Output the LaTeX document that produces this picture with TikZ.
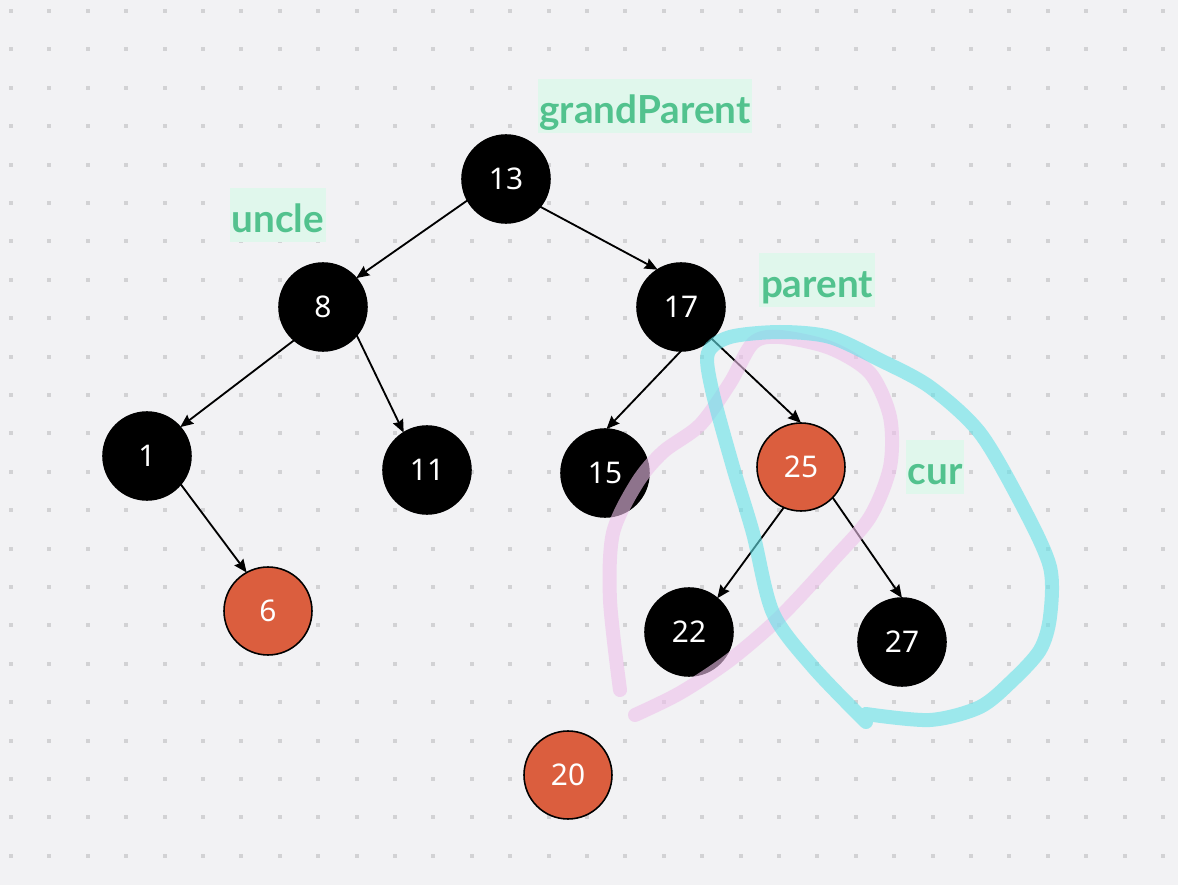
\documentclass[tikz,border=0pt]{standalone}
\usepackage{fontspec}
\setmainfont{Noto Sans}
\newfontfamily\tagfont{Lato}
\usetikzlibrary{arrows.meta}
\definecolor{bgcol}{RGB}{242,242,244}
\definecolor{dotcol}{RGB}{210,210,212}
\definecolor{rbred}{RGB}{219,94,62}
\definecolor{tagtext}{RGB}{82,194,142}
\definecolor{tagfill}{RGB}{224,247,236}
\definecolor{markcyan}{RGB}{100,226,232}
\definecolor{markpink}{RGB}{238,193,234}
\begin{document}
\begin{tikzpicture}[x=0.02cm,y=-0.02cm,
  every node/.style={outer sep=0pt},
  blknode/.style={circle,fill=black,draw=black,line width=0.9pt,minimum size=1.76cm,inner sep=0pt,text=white,font=\fontsize{17}{20}\selectfont},
  rednode/.style={blknode,fill=rbred},
  edge/.style={-{Stealth[length=0.26cm,width=0.22cm,inset=0.03cm]},line width=1.05pt},
  tag/.style={fill=tagfill,text=tagtext,font=\tagfont\bfseries\fontsize{22}{26}\selectfont,inner xsep=1pt,inner ysep=0pt,text height=0.9cm,text depth=0.2cm},
  marker/.style={line width=0.28cm,line cap=round,line join=round,opacity=0.6}]
\useasboundingbox[fill=bgcol] (0,0) rectangle (1178,885);
% dot grid
\foreach \i in {0,...,30}
  \foreach \j in {0,...,22}
    \fill[dotcol] (9+38.4*\i,9+38.4*\j) rectangle ++(4,4);
% tree
\node[blknode] (n13) at (506,179) {13};
\node[blknode] (n8) at (323,307) {8};
\node[blknode] (n17) at (681,307) {17};
\node[blknode] (n1) at (147,456) {1};
\node[blknode] (n11) at (427,470) {11};
\node[blknode] (n15) at (605,473) {15};
\node[rednode] (n25) at (801,467) {25};
\node[rednode] (n6) at (268,611) {6};
\node[blknode] (n22) at (689,632) {22};
\node[blknode] (n27) at (902,642) {27};
\node[rednode] (n20) at (568,775) {20};
\draw[edge] (n13.209) -- (n8.41);
\draw[edge] (n13.321) -- (n17.122);
\draw[edge] (n8.229) -- (n1.41);
\draw[edge] (n8.320) -- (n11.122);
\draw[edge] (n1.320) -- (n6.119);
\draw[edge] (n17.270) -- (n15.88);
\draw[edge] (n17.314) -- (n25.90);
\draw[edge] (n25.247) -- (n22.50);
\draw[edge] (n25.316) -- (n27.90);
% labels
\node[tag] (tgrand) at (645,106) {grandParent};
\node[tag] (tuncle) at (278,215) {uncle};
\node[tag] (tparent) at (817,280) {parent};
\node[tag] (tcur) at (935,467) {cur};
% freehand marks
\draw[marker,markpink] plot[smooth] coordinates {(620,690) (610,600) (613,533) (637,483) (663,452) (700,425) (730,383) (753,343) (780,337) (830,348) (870,373) (890,417) (890,467) (870,517) (833,560) (780,617) (730,660) (680,693) (635,715)};
\draw[marker,markcyan] plot[smooth] coordinates {(866,722) (813,667) (773,613) (753,533) (733,467) (712,390) (708,353) (730,337) (780,332) (830,337) (880,360) (930,387) (980,433) (1023,507) (1050,567) (1050,617) (1040,650) (1013,680) (980,707) (930,720) (866,714)};
\end{tikzpicture}
\end{document}
